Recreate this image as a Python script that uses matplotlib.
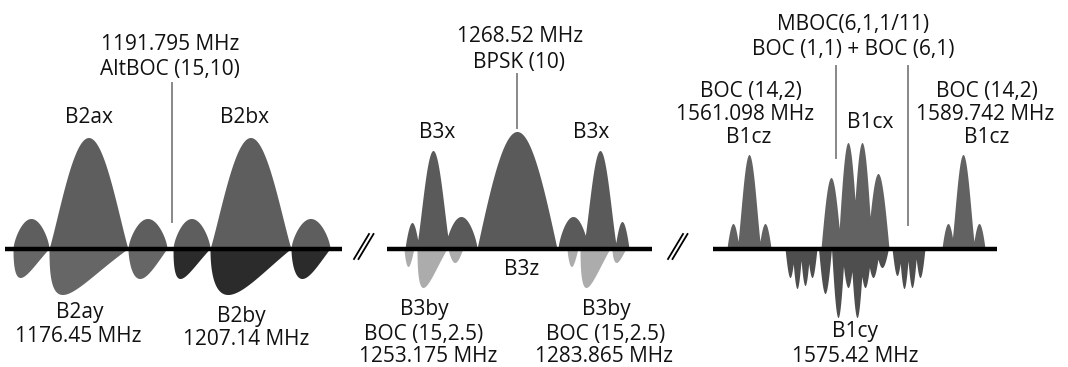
import numpy as np
import matplotlib.pyplot as plt

plt.rcParams['font.family'] = ['Open Sans', 'DejaVu Sans']

# diagram units: x runs left to right, y is height above / depth below the axis line
BASE = 248.5

# ---- B2 band (AltBOC) ----
b2_main_center = [88.5, 250.5]
b2_main_halfw = [39.5, 40.5]
b2_main_height = [111, 111]
b2_side_center = [31, 147.5, 191.5, 310.5]
b2_side_halfw = [18, 19.5, 18.5, 19.5]
b2_side_height = [30, 30, 30, 30]

# lower lobes: start, end, depth, where the deepest point sits (fraction)
b2ay_start = [13, 49, 128]
b2ay_end = [49, 128, 167]
b2ay_depth = [29, 46, 30]
b2ay_skew = [0.2, 0.17, 0.3]
b2by_start = [173, 210, 291]
b2by_end = [210, 291, 330]
b2by_depth = [30, 46, 30]
b2by_skew = [0.19, 0.22, 0.28]

# ---- B3 band ----
bpsk_main_center = [517]
bpsk_main_halfw = [40]
bpsk_main_height = [117]
bpsk_side_center = [461, 573]
bpsk_side_halfw = [16, 15]
bpsk_side_height = [32, 32]
b3x_main_center = [433, 600]
b3x_main_halfw = [17, 17]
b3x_main_height = [98, 98]
b3x_side_center = [412, 622]
b3x_side_halfw = [7, 7]
b3x_side_height = [26, 27]

b3by_start = [404, 417, 448, 567, 580, 612]
b3by_end = [414, 447, 463, 578, 610, 626]
b3by_depth = [18, 39, 14, 18, 39, 14]
b3by_skew = [0.4, 0.2, 0.45, 0.4, 0.2, 0.3]

# ---- B1 band ----
b1cz_main_center = [749, 963]
b1cz_main_halfw = [12, 12]
b1cz_main_height = [94, 94]
b1cz_side_center = [733, 765, 948, 979]
b1cz_side_halfw = [6, 6, 6, 6]
b1cz_side_height = [25, 25, 25, 25]
b1cx_center = [831, 848, 862, 878]
b1cx_halfw = [10, 10, 10, 11]
b1cx_height = [71, 106, 106, 75]

b1cy_center = [790, 797, 805, 812,
               825, 838, 848, 857, 865, 873, 882,
               897, 904, 912, 920]
b1cy_halfw = [5, 5, 5, 5,
              6.5, 6.5, 6.5, 6.5, 6.5, 6.5, 6.5,
              5, 5, 5, 5]
b1cy_depth = [29, 40, 37, 29,
              45, 69, 39, 69, 39, 29, 19,
              27, 40, 39, 29]

labels = [
    ("1191.795 MHz", 170, 50), ("AltBOC (15,10)", 170, 75),
    ("B2ax", 89, 123), ("B2bx", 244, 123),
    ("B2ay", 80, 318), ("1176.45 MHz", 78, 342),
    ("B2by", 241, 322), ("1207.14 MHz", 246, 345),
    ("1268.52 MHz", 520, 42), ("BPSK (10)", 519, 68),
    ("B3x", 437, 138), ("B3x", 591, 138), ("B3z", 522, 275),
    ("B3by", 424, 315), ("BOC (15,2.5)", 424, 340), ("1253.175 MHz", 428, 362),
    ("B3by", 606, 315), ("BOC (15,2.5)", 606, 340), ("1283.865 MHz", 604, 362),
    ("MBOC(6,1,1/11)", 853, 30), ("BOC (1,1) + BOC (6,1)", 853, 55),
    ("BOC (14,2)", 751, 97), ("1561.098 MHz", 745, 120), ("B1cz", 749, 143),
    ("B1cx", 870, 128),
    ("BOC (14,2)", 987, 97), ("1589.742 MHz", 985, 120), ("B1cz", 987, 143),
    ("B1cy", 855, 337), ("1575.42 MHz", 855, 362),
]

segments = [(5, 342), (387, 652), (713, 997)]
pointers = [(172, 83, 222), (517, 74, 128), (836, 66, 158), (908, 66, 225)]


def lobes(x, centers, halfws, heights, p):
    out = np.zeros_like(x)
    for c, w, h in zip(centers, halfws, heights):
        d = np.abs(x - c)
        v = np.where(d < w, h * np.clip(np.cos(np.pi / 2 * d / w), 0, 1) ** p, 0)
        out = np.maximum(out, v)
    return out


def skewed(x, starts, ends, depths, skews):
    out = np.zeros_like(x)
    for a, b, dep, s in zip(starts, ends, depths, skews):
        t = np.clip((x - a) / (b - a), 0, 1)
        k = np.log(0.5) / np.log(s)
        v = np.where((x > a) & (x < b), dep * np.sin(np.pi * t ** k), 0)
        out = np.maximum(out, v)
    return out


fig = plt.figure(figsize=(10.68, 3.67), dpi=100)
ax = fig.add_axes([0, 0, 1, 1])
ax.set_xlim(0, 1068)
ax.set_ylim(367, 0)
ax.axis('off')

# B2
x = np.linspace(5, 342, 3000)
up = np.maximum(lobes(x, b2_main_center, b2_main_halfw, b2_main_height, 1.1),
                lobes(x, b2_side_center, b2_side_halfw, b2_side_height, 0.65))
ax.fill_between(x, BASE, BASE - up, color='#5e5e5e', lw=0)
ax.fill_between(x, BASE, BASE + skewed(x, b2ay_start, b2ay_end, b2ay_depth, b2ay_skew),
                color='#666666', lw=0)
ax.fill_between(x, BASE, BASE + skewed(x, b2by_start, b2by_end, b2by_depth, b2by_skew),
                color='#2b2b2b', lw=0)

# B3
x = np.linspace(387, 652, 3000)
up = np.maximum.reduce([
    lobes(x, bpsk_main_center, bpsk_main_halfw, bpsk_main_height, 1.0),
    lobes(x, bpsk_side_center, bpsk_side_halfw, bpsk_side_height, 0.7),
    lobes(x, b3x_main_center, b3x_main_halfw, b3x_main_height, 1.3),
    lobes(x, b3x_side_center, b3x_side_halfw, b3x_side_height, 0.9),
])
ax.fill_between(x, BASE, BASE - up, color='#5a5a5a', lw=0)
ax.fill_between(x, BASE, BASE + skewed(x, b3by_start, b3by_end, b3by_depth, b3by_skew),
                color='#acacac', lw=0)

# B1
x = np.linspace(713, 997, 3000)
up = np.maximum.reduce([
    lobes(x, b1cz_main_center, b1cz_main_halfw, b1cz_main_height, 1.3),
    lobes(x, b1cz_side_center, b1cz_side_halfw, b1cz_side_height, 0.9),
    lobes(x, b1cx_center, b1cx_halfw, b1cx_height, 1.0),
])
ax.fill_between(x, BASE, BASE - up, color='#626262', lw=0)
ax.fill_between(x, BASE, BASE + lobes(x, b1cy_center, b1cy_halfw, b1cy_depth, 1.0),
                color='#4e4e4e', lw=0)

# axis lines and break marks
for x0, x1 in segments:
    ax.plot([x0, x1], [BASE, BASE], color='black', lw=3.2, solid_capstyle='butt')
for bx in [354, 668]:
    for off in [0, 4.5]:
        ax.plot([bx + off, bx + off + 15], [259, 234], color='black', lw=1.3)

for px, y0, y1 in pointers:
    ax.plot([px, px], [y0, y1], color='#888888', lw=1.4)

for text, tx, ty in labels:
    ax.text(tx, ty, text, ha='center', va='baseline', fontsize=15, color='#111111')

fig.savefig('out.png', dpi=100)
